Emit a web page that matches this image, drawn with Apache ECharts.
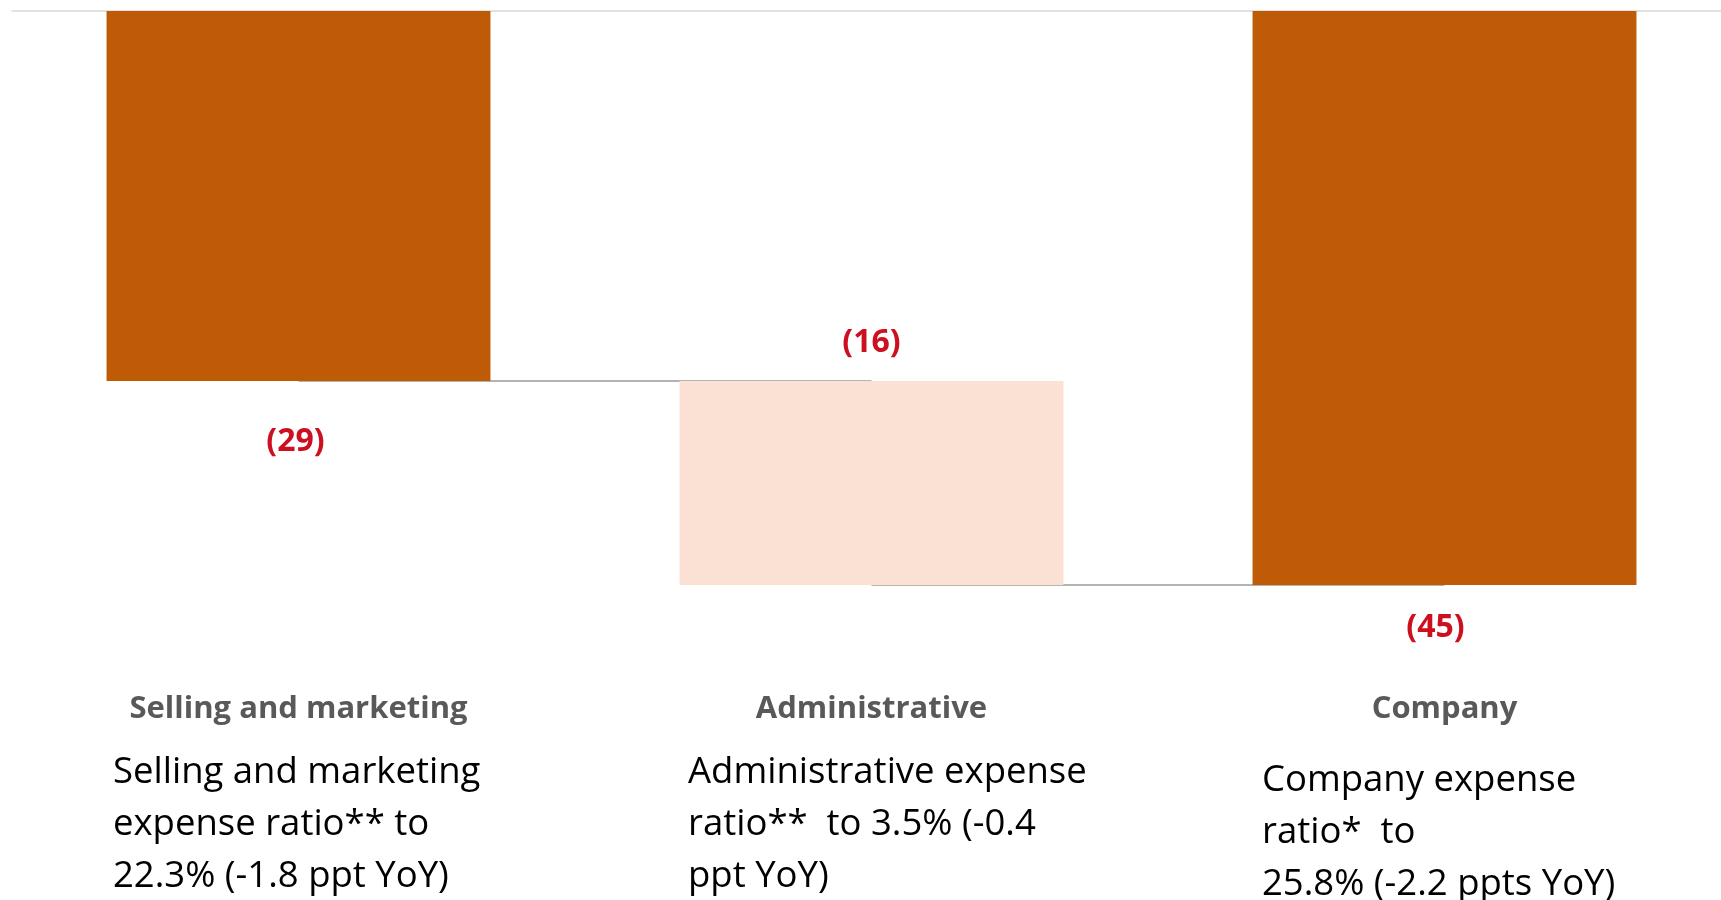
<!DOCTYPE html>
<html>
<head>
<meta charset="utf-8">
<script src="https://cdn.jsdelivr.net/npm/echarts@6/dist/echarts.min.js"></script>
<style>
html,body{margin:0;padding:0;background:#fff;overflow:hidden;}
#chart{width:1760px;height:900px;}
</style>
</head>
<body>
<div id="chart"></div>
<script>
const categories = ['Selling and marketing', 'Administrative', 'Company'];
const values = [-29, -16, -45];
const valueLabels = ['(29)', '(16)', '(45)'];
const isTotal = [false, false, true];
const descriptions = [
  ['Selling and marketing', 'expense ratio** to', '22.3% (-1.8 ppt YoY)'],
  ['Administrative expense', 'ratio**  to 3.5% (-0.4', 'ppt YoY)'],
  ['Company expense', 'ratio*  to', '25.8% (-2.2 ppts YoY)']
];

// waterfall base: running total for non-total bars
const base = [];
let running = 0;
for (let i = 0; i < values.length; i++) {
  if (isTotal[i]) { base.push(0); }
  else { base.push(running); running += values[i]; }
}

const DARK = '#BF5A07';
const LIGHT = '#FBE0D4';
const RED = '#CC1020';
const FONT = "'Open Sans', 'Noto Sans', sans-serif";

const colors = [DARK, LIGHT, DARK];
const labelCfg = [
  { position: 'bottom', distance: 45, offset: [-3, 0] },
  { position: 'top', distance: 22, offset: [0, 0] },
  { position: 'bottom', distance: 27, offset: [-9, 0] }
];

const chart = echarts.init(document.getElementById('chart'));
chart.setOption({
  animation: false,
  backgroundColor: '#ffffff',
  grid: { left: 12, width: 1719, top: 11, bottom: 315, containLabel: false },
  xAxis: [
    {
      type: 'category', data: categories, position: 'bottom',
      axisLine: { show: false, onZero: false }, axisTick: { show: false },
      axisLabel: { margin: 109, color: '#595959', fontWeight: 'bold', fontSize: 31, fontFamily: FONT, interval: 0 }
    },
    {
      type: 'category', data: categories, position: 'top',
      axisLine: { show: true, onZero: false, lineStyle: { color: '#d9d9d9', width: 1.5 } },
      axisTick: { show: false }, axisLabel: { show: false }
    }
  ],
  yAxis: { type: 'value', min: -45, max: 0, show: false, splitLine: { show: false } },
  series: [
    {
      type: 'bar', stack: 'w', data: base, barWidth: '67%', z: 1,
      itemStyle: { color: 'rgba(0,0,0,0)' },
      markLine: {
        silent: true, symbol: ['none', 'none'], z: 1,
        label: { show: false },
        lineStyle: { color: '#b3b3b3', width: 2, type: 'solid' },
        data: [
          [{ coord: [0, base[1]] }, { coord: [1, base[1]] }],
          [{ coord: [1, base[1] + values[1]] }, { coord: [2, base[1] + values[1]] }]
        ]
      }
    },
    {
      type: 'bar', stack: 'w', barWidth: '67%', z: 2,
      data: values.map((v, i) => ({
        value: v,
        itemStyle: { color: colors[i] },
        label: {
          show: true, formatter: valueLabels[i],
          position: labelCfg[i].position, distance: labelCfg[i].distance,
          offset: labelCfg[i].offset,
          color: RED, fontWeight: 'bold', fontSize: 32, fontFamily: FONT
        }
      }))
    }
  ],
  graphic: descriptions.map((lines, i) => ({
    type: 'text',
    left: [113, 688, 1262][i],
    top: [747, 747, 755][i],
    style: {
      text: lines.join('\n'),
      fill: '#000000',
      fontSize: 36.5,
      lineHeight: 52,
      fontFamily: FONT
    }
  }))
});
</script>
</body>
</html>
